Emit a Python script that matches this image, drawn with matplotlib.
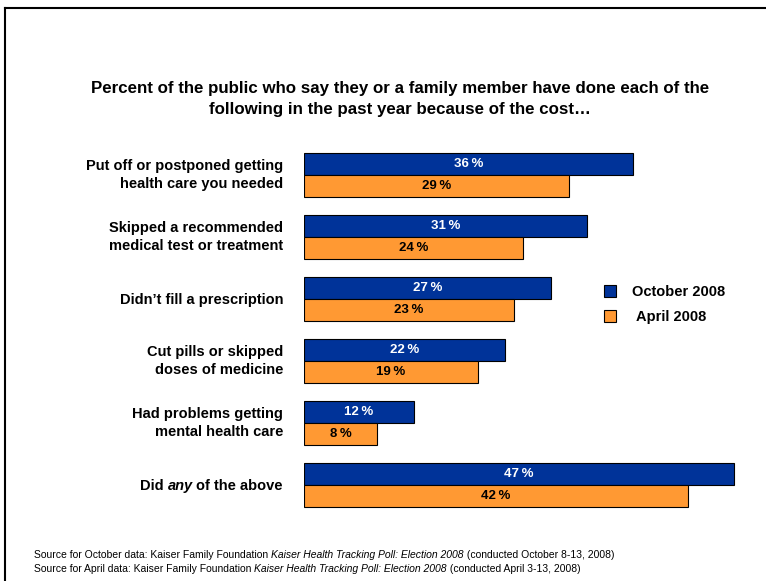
import matplotlib
matplotlib.use("Agg")
import matplotlib.pyplot as plt
from matplotlib.lines import Line2D
from matplotlib.patches import Rectangle

plt.rcParams['font.family'] = ['Liberation Sans', 'DejaVu Sans']

# label pieces: (text, italic)
labels = [
    [[("Put off or postponed getting", False)], [("health care you needed", False)]],
    [[("Skipped a recommended", False)], [("medical test or treatment", False)]],
    [[("Didn\u2019t fill a prescription", False)]],
    [[("Cut pills or skipped", False)], [("doses of medicine", False)]],
    [[("Had problems getting", False)], [("mental health care", False)]],
    [[("Did ", False), ("any", True), ("of the above", False)]],
]
october = [36, 31, 27, 22, 12, 47]
april = [29, 24, 23, 19, 8, 42]
series_names = ["October 2008", "April 2008"]
blue = "#003399"
orange = "#FF9933"

title = ("Percent of the public who say they or a family member have done each of the\n"
         "following in the past year because of the cost\u2026")
notes = [
    [("Source for October data: Kaiser Family Foundation ", False),
     ("Kaiser Health Tracking Poll: Election 2008", True),
     (" (conducted October 8-13, 2008)", False)],
    [("Source for April data: Kaiser Family Foundation ", False),
     ("Kaiser Health Tracking Poll: Election 2008", True),
     (" (conducted April 3-13, 2008)", False)],
]

W, H = 766, 581
fig = plt.figure(figsize=(W / 100, H / 100), dpi=100)

# axes in pixel terms
px_per_pct = 9.14
ax_left, ax_top, ax_bot = 304, 140, 520
ax = fig.add_axes([ax_left / W, 1 - ax_bot / H, (W - ax_left) / W, (ax_bot - ax_top) / H])
unit = 62.0
off = (175 - ax_top) / unit
ax.set_xlim(0, (W - ax_left) / px_per_pct)
ax.set_ylim(-off + (ax_bot - ax_top) / unit, -off)
ax.axis("off")

bh = 22 / unit
n = len(october)
ypos = list(range(n))
ax.barh([y - bh / 2 for y in ypos], october, height=bh, color=blue, edgecolor="black", linewidth=0.8)
ax.barh([y + bh / 2 for y in ypos], april, height=bh, color=orange, edgecolor="black", linewidth=0.8)
for y, o, a in zip(ypos, october, april):
    ax.text(o / 2, y - bh / 2, f"{o}\u2009%", ha="center", va="center", color="white",
            fontsize=9.5, fontweight="bold")
    ax.text(a / 2, y + bh / 2, f"{a}\u2009%", ha="center", va="center", color="black",
            fontsize=9.5, fontweight="bold")

fig.text(400 / W, 1 - 99 / H, title, ha="center", va="center", fontsize=12.2,
         fontweight="bold", linespacing=1.45)

renderer = fig.canvas.get_renderer()


def draw_pieces(pieces, x, y, size, weight, align="left"):
    # place text pieces side by side starting (or ending) at pixel x
    widths = []
    for txt, it in pieces:
        t = fig.text(0, 0, txt, fontsize=size, fontweight=weight,
                     style="italic" if it else "normal")
        w = t.get_window_extent(renderer).width
        if txt == "any":
            w += size * 0.35
        widths.append(w)
        t.remove()
    total = sum(widths)
    cx = x - total if align == "right" else x
    for (txt, it), w in zip(pieces, widths):
        fig.text(cx / W, 1 - y / H, txt, fontsize=size, fontweight=weight,
                 style="italic" if it else "normal", ha="left", va="center")
        cx += w


lab_size = 10.5
for i, lines in enumerate(labels):
    yc = 175 + unit * i
    if len(lines) == 1:
        draw_pieces(lines[0], 283, yc + 1, lab_size, "bold", "right")
    else:
        draw_pieces(lines[0], 283, yc - 9, lab_size, "bold", "right")
        draw_pieces(lines[1], 283, yc + 9, lab_size, "bold", "right")

draw_pieces(notes[0], 34, 555, 7.5, "normal")
draw_pieces(notes[1], 34, 569, 7.5, "normal")

# legend drawn by hand
for k, (name, c) in enumerate(zip(series_names, (blue, orange))):
    yk = 291 + 25 * k
    fig.add_artist(Rectangle((604 / W, 1 - (yk + 6) / H), 12 / W, 12 / H, facecolor=c,
                             edgecolor="black", linewidth=0.8, transform=fig.transFigure))
    fig.text((632 + 4 * k) / W, 1 - (yk + 1) / H, name, fontsize=10.5, fontweight="bold",
             ha="left", va="center")

# frame around the slide
fig.add_artist(Line2D([5 / W, 1], [1 - 8 / H, 1 - 8 / H], color="black", linewidth=1.5))
fig.add_artist(Line2D([5 / W, 5 / W], [0, 1 - 8 / H], color="black", linewidth=1.5))

fig.savefig("out.png", dpi=100)
